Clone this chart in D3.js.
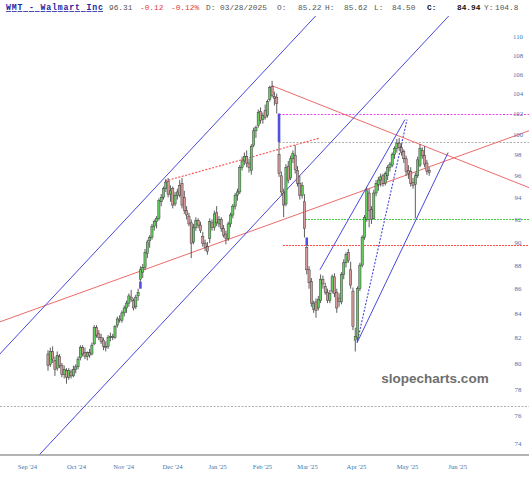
<!DOCTYPE html>
<html>
<head>
<meta charset="utf-8">
<script src="https://cdn.jsdelivr.net/npm/d3@7"></script>
<style>
  body { margin: 0; background: #fff; }
  svg { display: block; }
</style>
</head>
<body>
<script>
// chart size
const w = 529;
const h = 480;

// daily candles, [open, high, low, close], one per trading day
const bars = [
  [80.7, 81.0, 79.4, 79.8], [79.9, 81.2, 79.7, 80.9], [80.9, 81.3, 80.0, 80.3], [80.2, 80.5, 79.0, 79.5],
  [79.6, 80.9, 79.4, 80.6], [80.5, 80.7, 79.6, 79.8], [79.8, 80.0, 78.9, 79.1], [79.1, 79.8, 78.8, 79.5],
  [79.4, 79.6, 78.4, 78.9], [78.9, 79.6, 78.7, 79.4], [79.3, 79.5, 78.8, 79.0], [79.0, 79.8, 78.9, 79.5],
  [79.5, 79.9, 79.2, 79.7], [79.7, 80.5, 79.5, 80.3], [80.4, 81.4, 80.2, 81.2], [81.2, 81.4, 80.5, 80.7],
  [80.8, 81.2, 80.3, 80.5], [80.5, 80.9, 80.2, 80.8], [80.8, 81.1, 80.4, 80.6], [80.7, 81.6, 80.6, 81.4],
  [81.5, 83.0, 81.4, 82.8], [82.8, 83.0, 82.0, 82.2], [82.3, 82.6, 81.8, 82.0], [82.0, 82.3, 81.5, 81.7],
  [81.8, 82.0, 81.0, 81.3], [81.3, 81.7, 80.9, 81.2], [81.3, 82.2, 81.1, 82.0], [82.0, 82.4, 81.7, 82.1],
  [82.1, 82.3, 81.8, 82.0], [82.0, 83.0, 81.9, 82.9], [83.0, 83.7, 82.8, 83.5], [83.5, 83.8, 83.2, 83.4],
  [83.4, 84.2, 83.2, 84.0], [84.0, 84.6, 83.7, 84.4], [84.4, 85.0, 84.0, 84.8], [84.8, 85.6, 84.5, 85.4],
  [85.3, 85.9, 84.9, 85.1], [85.0, 85.2, 84.2, 84.4], [84.5, 85.5, 84.3, 85.3], [85.4, 86.0, 85.0, 85.7],
  [86.8, 87.9, 86.6, 87.6], [87.4, 88.1, 86.9, 87.8], [87.8, 89.4, 87.6, 89.1], [89.0, 90.2, 88.6, 90.0],
  [90.1, 90.6, 89.5, 90.4], [90.4, 91.6, 90.2, 91.4], [91.4, 92.0, 91.0, 91.8], [91.8, 92.3, 91.2, 92.1],
  [92.1, 93.9, 91.9, 93.7], [93.6, 94.3, 93.2, 94.0], [94.0, 95.0, 93.8, 94.8], [94.8, 95.7, 94.5, 95.4],
  [95.5, 95.8, 94.0, 94.3], [94.3, 95.1, 93.6, 94.6], [94.8, 95.0, 93.0, 93.3], [93.4, 94.5, 93.2, 94.2],
  [94.2, 94.8, 93.8, 94.5], [95.1, 95.6, 94.0, 94.2], [95.3, 95.8, 93.0, 93.3], [94.0, 94.6, 92.5, 92.8],
  [92.8, 93.2, 92.0, 92.4], [92.3, 92.6, 91.4, 91.6], [91.7, 92.0, 88.6, 89.9], [90.0, 91.6, 89.8, 91.3],
  [91.3, 92.2, 91.0, 91.9], [91.9, 92.1, 91.2, 91.5], [91.5, 91.8, 90.8, 91.0], [90.5, 90.9, 89.6, 89.9],
  [89.9, 90.2, 89.2, 89.5], [89.6, 90.0, 88.9, 89.2], [90.3, 92.1, 89.9, 91.8], [91.7, 92.0, 91.0, 91.3],
  [91.3, 92.8, 91.0, 92.5], [92.6, 93.2, 91.4, 91.7], [91.6, 92.3, 91.3, 92.0], [92.0, 92.2, 90.9, 91.2],
  [91.2, 91.5, 90.4, 90.6], [90.7, 91.0, 89.8, 90.3], [90.3, 91.8, 90.1, 91.6], [91.6, 92.6, 91.3, 92.4],
  [92.4, 93.4, 92.1, 93.2], [93.2, 94.4, 92.9, 94.2], [94.2, 94.8, 93.7, 94.5], [94.5, 97.0, 94.3, 96.8],
  [96.8, 97.8, 96.5, 97.4], [97.4, 98.2, 97.0, 97.8], [97.8, 98.4, 96.8, 97.2], [97.2, 97.6, 96.3, 96.8],
  [96.5, 99.0, 96.1, 98.8], [98.9, 100.6, 98.7, 100.3], [100.3, 100.8, 99.6, 100.6], [100.8, 102.4, 100.6, 102.1],
  [102.2, 102.6, 101.0, 101.3], [101.4, 102.1, 101.0, 101.8], [102.3, 102.9, 101.4, 101.6], [101.8, 103.4, 101.6, 103.2],
  [103.4, 104.8, 103.2, 104.6], [104.7, 105.3, 103.6, 103.8], [103.7, 104.2, 102.8, 103.5], [103.6, 104.0, 102.0, 103.0],
  [98.0, 99.2, 95.9, 96.2], [96.0, 96.4, 94.2, 94.5], [94.4, 94.8, 92.2, 93.3], [93.4, 97.1, 93.2, 96.8],
  [96.9, 97.4, 95.3, 95.6], [95.8, 97.9, 95.6, 97.6], [97.6, 98.4, 97.2, 98.1], [97.9, 98.9, 96.2, 96.6],
  [96.5, 96.9, 95.0, 95.3], [95.3, 96.0, 93.8, 94.2], [94.2, 95.4, 93.9, 95.1], [93.6, 94.3, 90.4, 91.2],
  [89.5, 89.7, 87.2, 87.6], [87.6, 87.9, 86.0, 86.5], [86.6, 86.9, 84.5, 84.8], [84.3, 85.0, 84.0, 84.8],
  [84.9, 85.2, 83.6, 84.2], [84.4, 85.4, 84.2, 85.1], [85.0, 87.2, 84.8, 86.8], [86.8, 87.1, 86.0, 86.4],
  [86.2, 86.5, 85.5, 85.7], [85.7, 86.0, 84.8, 85.0], [85.0, 85.9, 84.8, 85.6], [85.8, 87.2, 85.6, 87.0],
  [87.0, 87.3, 85.3, 85.6], [85.7, 86.0, 84.0, 84.4], [85.22, 85.62, 84.50, 84.94], [84.9, 87.4, 84.7, 87.2],
  [87.2, 88.5, 86.8, 88.2], [88.2, 89.1, 87.8, 88.9], [89.1, 89.4, 88.2, 88.4], [87.6, 88.3, 86.0, 86.3],
  [85.8, 86.1, 82.6, 82.9], [81.8, 82.8, 80.9, 82.1], [82.0, 86.2, 81.7, 86.0], [86.0, 88.2, 85.8, 88.0],
  [88.0, 90.6, 87.8, 90.4], [90.4, 92.4, 90.2, 92.2], [92.0, 94.9, 91.8, 94.6], [94.4, 94.8, 91.3, 92.8],
  [92.9, 93.2, 91.6, 92.0], [92.1, 94.7, 92.0, 94.4], [94.4, 95.6, 94.1, 95.3], [95.2, 95.9, 94.6, 95.6],
  [95.6, 96.2, 95.0, 95.9], [96.0, 96.2, 95.0, 95.3], [95.3, 96.4, 95.1, 96.2], [96.0, 97.0, 95.6, 96.8],
  [96.8, 97.3, 96.4, 97.1], [97.0, 98.2, 96.8, 98.0], [98.0, 98.8, 97.6, 98.6], [98.6, 99.5, 98.2, 99.1],
  [99.1, 99.6, 98.4, 98.7], [98.7, 99.0, 97.9, 98.2], [98.3, 98.5, 97.2, 97.6], [97.6, 97.9, 96.0, 96.4],
  [96.5, 97.0, 95.7, 96.2], [96.4, 96.8, 95.0, 95.3], [95.4, 95.8, 94.8, 95.1], [95.2, 96.3, 92.1, 96.0],
  [96.0, 97.8, 95.8, 97.5], [97.0, 99.0, 96.8, 98.6], [98.4, 98.7, 97.6, 97.9], [97.9, 98.8, 96.8, 97.1],
  [97.2, 97.5, 96.1, 96.43], [96.5, 96.8, 96.0, 96.31]
];

// month labels and the bar position they sit on
const monthLabels = ["Sep '24", "Oct '24", "Nov '24", "Dec '24", "Jan '25", "Feb '25", "Mar '25", "Apr '25", "May '25", "Jun '25"];
const monthPos = [-9.1, 12.1, 32.5, 53.7, 73.2, 92.6, 112.1, 133.3, 155.4, 177.1];
const priceTicks = [74, 76, 78, 80, 82, 84, 86, 88, 90, 92, 94, 96, 98, 100, 102, 104, 106, 108, 110];

// drawn studies, endpoints as [bar, price]
const blueLines = [
  [[-25.0, 79.9], [118.2, 112.8]],
  [[-4.24, 73.07], [175.8, 112.8]],
  [[117.7, 87.6], [154.5, 101.4]],
  [[133.8, 81.6], [173.2, 98.2]]
];
const blueDotted = [[[133.8, 81.6], [155.4, 101.4]]];
const redLines = [
  [[-20.8, 83.27], [208.2, 100.3]],
  [[97.0, 104.8], [208.2, 94.9]]
];
const redDotted = [[[50.6, 95.5], [117.7, 99.6]]];
// horizontal levels, [start bar, price]
const magentaLevels = [[100, 102.0]];
const grayLevels = [[100, 99.2], [-30, 76.7]];
const greenLevels = [[111.3, 92.0]];
const redLevels = [[101.7, 89.7]];

const header = [
  { t: "96.31", x: 109, c: "#555" },
  { t: "-0.12", x: 140, c: "#e23b3b" },
  { t: "-0.12%", x: 171, c: "#e23b3b" },
  { t: "D: 03/28/2025", x: 206, c: "#555" },
  { t: "O:", x: 277, c: "#555" },
  { t: "85.22", x: 298, c: "#555" },
  { t: "H:", x: 325, c: "#555" },
  { t: "85.62", x: 344, c: "#555" },
  { t: "L:", x: 374, c: "#555" },
  { t: "84.50", x: 392, c: "#555" },
  { t: "C:", x: 427, c: "#111", b: true },
  { t: "84.94", x: 457, c: "#111", b: true },
  { t: "Y:", x: 484, c: "#555" },
  { t: "104.8", x: 495, c: "#555" }
];

const svg = d3.select("body").append("svg")
  .attr("width", w)
  .attr("height", h);

const x = d3.scaleLinear().domain([0, bars.length - 1]).range([48, 429.2]);
const y = d3.scaleLog().domain([74, 110]).range([443, 36]);

svg.append("clipPath").attr("id", "plot")
  .append("rect").attr("x", 0).attr("y", 16).attr("width", w).attr("height", 439);

const g = svg.append("g").attr("clip-path", "url(#plot)");

const line = d3.line().x(d => x(d[0])).y(d => y(d[1]));

// horizontal levels, snapped to the pixel grid so the dots stay crisp
function levels(data, color, dash) {
  g.selectAll(null).data(data).enter().append("line")
    .attr("x1", d => Math.round(x(d[0]))).attr("x2", w)
    .attr("y1", d => Math.round(y(d[1])) + 0.5).attr("y2", d => Math.round(y(d[1])) + 0.5)
    .attr("stroke", color).attr("stroke-width", 1.2)
    .attr("stroke-dasharray", dash);
}
levels(magentaLevels, "#ee44ee", "2,1.5");
levels(grayLevels, "#b0b0b0", "2,1.5");
levels(greenLevels, "#44cc44", "2,1");
levels(redLevels, "#ff4d4d", "2,1");

function trend(data, color, width, dash) {
  g.selectAll(null).data(data).enter().append("path")
    .attr("d", line)
    .attr("fill", "none")
    .attr("stroke", color)
    .attr("stroke-width", width)
    .attr("stroke-dasharray", dash);
}
trend(redDotted, "#ff4d4d", 1.1, "2,1.5");
trend(blueDotted, "#4848dc", 1.1, "2,1.5");
trend(redLines, "#ea5a5a", 0.9, null);
trend(blueLines, "#4848dc", 1, null);

// gaps between consecutive bars
const gaps = [];
bars.forEach((b, i) => {
  if (i == 0) return;
  const prev = bars[i - 1];
  if (b[1] < prev[2]) gaps.push([i, b[1], prev[2]]);
  else if (b[2] > prev[1]) gaps.push([i, prev[1], b[2]]);
});
g.selectAll(".gap").data(gaps).enter().append("rect")
  .attr("x", d => x(d[0]) - 1.3)
  .attr("width", 2.6)
  .attr("y", d => y(d[2]))
  .attr("height", d => y(d[1]) - y(d[2]))
  .attr("fill", "#5050e0");

// candles
const candle = g.selectAll(".bar").data(bars).enter().append("g");
candle.append("line")
  .attr("x1", (d, i) => x(i)).attr("x2", (d, i) => x(i))
  .attr("y1", d => y(d[1])).attr("y2", d => y(d[2]))
  .attr("stroke", "#333").attr("stroke-width", 0.8);
candle.append("rect")
  .attr("x", (d, i) => x(i) - 1.1)
  .attr("width", 2.2)
  .attr("y", d => y(Math.max(d[0], d[3])))
  .attr("height", d => Math.max(0.8, Math.abs(y(d[0]) - y(d[3]))))
  .attr("fill", d => d[3] >= d[0] ? "#62cf5f" : "#d69a9a")
  .attr("stroke", "#3a3a3a")
  .attr("stroke-width", 0.5);

// axes
svg.append("line")
  .attr("x1", 0).attr("x2", w).attr("y1", 455).attr("y2", 455)
  .attr("stroke", "#9a9a9a").attr("stroke-width", 1.5);

const xAxis = svg.append("g")
  .attr("transform", "translate(0,455)")
  .call(d3.axisBottom(x).tickValues(monthPos).tickSize(0).tickFormat((d, i) => monthLabels[i]));
xAxis.select(".domain").remove();
xAxis.selectAll("text")
  .attr("y", 14.3).attr("dy", 0)
  .attr("fill", "#3f74ad")
  .style("font-family", "'Liberation Serif', 'DejaVu Serif', serif")
  .style("font-size", "6.6px");

const yAxis = svg.append("g")
  .attr("transform", "translate(510,0)")
  .call(d3.axisRight(y).tickValues(priceTicks).tickSize(0).tickFormat(d3.format("d")));
yAxis.select(".domain").remove();
yAxis.selectAll("text")
  .attr("x", 8).attr("text-anchor", "middle")
  .attr("fill", "#3f74ad")
  .style("font-family", "'Liberation Serif', 'DejaVu Serif', serif")
  .style("font-size", "6.8px");

// watermark
svg.append("text")
  .attr("x", 435).attr("y", 383)
  .attr("text-anchor", "middle")
  .attr("fill", "#6e6e6e")
  .style("font-family", "'Liberation Sans', Arial, sans-serif")
  .style("font-weight", "bold")
  .style("font-size", "13.5px")
  .text("slopecharts.com");

// header readout
svg.append("text")
  .attr("x", 6).attr("y", 10)
  .attr("fill", "#2323a0")
  .attr("text-decoration", "underline")
  .attr("textLength", 97)
  .style("font-family", "'Liberation Mono', 'DejaVu Sans Mono', monospace")
  .style("font-weight", "bold")
  .style("font-size", "8.2px")
  .text("WMT - Walmart Inc");

svg.selectAll(".hdr").data(header).enter().append("text")
  .attr("x", d => d.x).attr("y", 10)
  .attr("fill", d => d.c)
  .style("font-family", "'Liberation Mono', 'DejaVu Sans Mono', monospace")
  .style("font-weight", d => d.b ? "bold" : "normal")
  .style("font-size", "7.8px")
  .text(d => d.t);
</script>
</body>
</html>
